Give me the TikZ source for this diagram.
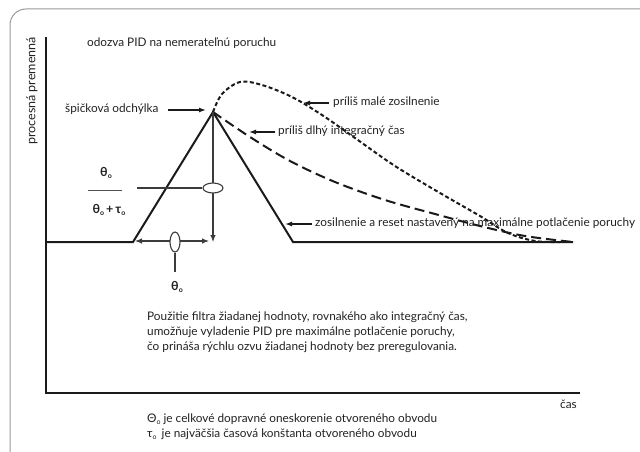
\documentclass[tikz,border=0pt]{standalone}
\usepackage{fontspec}
\setmainfont{Lato}
\usetikzlibrary{arrows.meta,shapes.geometric}
\definecolor{txt}{HTML}{222222}
\definecolor{ink}{HTML}{1A1A1A}
\definecolor{frm}{HTML}{9A9A9A}
\newcommand{\sbo}{\raisebox{-2pt}{\fontsize{7}{7}\selectfont o}}
\begin{document}
\begin{tikzpicture}[x=1pt,y=-1pt,
  lbl/.style={text=txt,font=\fontsize{11.8}{14}\selectfont,inner sep=0pt},
  axis/.style={ink,line width=2.4pt},
  curve/.style={ink,line width=2pt,line join=miter},
  thinl/.style={ink!85,line width=1.1pt},
  la/.style={ink,line width=1.3pt,-{Latex[length=7pt,width=5pt]}},
  sdash/.style={ink,line width=2pt,dash pattern=on 4pt off 2.5pt},
  ldash/.style={ink,line width=2pt,dash pattern=on 10pt off 5pt},
  ell/.style={draw=ink!85,line width=1.1pt,fill=white,ellipse,inner sep=0pt}]
\useasboundingbox (0,0) rectangle (640,452);
\clip (0,0) rectangle (640,452);
% frame
\draw[frm,line width=1pt,rounded corners=16pt] (10,470) -- (10,9) -- (680,9);
% axes
\coordinate (ytop) at (46,37);
\coordinate (org) at (46,393);
\coordinate (xend) at (580,393);
\draw[axis] (ytop) -- (org) -- (xend);
\node[lbl,rotate=90,font=\fontsize{12.5}{14}\selectfont] (ylab) at (32,91) {procesná premenná};
\node[lbl,anchor=mid west] (title) at (87,44) {odozva PID na nemerateľnú poruchu};
\node[lbl,anchor=mid west] (cas) at (560,406) {čas};
% main response
\coordinate (b0) at (46,242);
\coordinate (r0) at (133,242);
\coordinate (pk) at (213,112);
\coordinate (r1) at (293,242);
\coordinate (bend) at (573,242);
% short dash curve
\draw[sdash] plot[smooth,tension=0.55] coordinates {(pk) (222,94) (240,82) (262,85) (292,97) (322,115) (355,138) (395,166) (440,193) (480,216) (508,233) (535,241) (560,242)};
% long dash curve
\draw[ldash] plot[smooth,tension=0.55] coordinates {(pk) (250,137) (290,161) (335,182) (385,200) (435,214) (480,226) (525,236) (573,242)};
\draw[curve] (b0) -- (r0) -- (pk) -- (r1) -- (bend);
% vertical line with arrow
\coordinate (vb) at (213,242);
\draw[thinl,-{Latex[length=7pt,width=5.5pt]}] (pk) -- (vb);
% horizontal double arrow
\coordinate (ha) at (135,241);
\coordinate (hb) at (209,241);
\draw[thinl,{Latex[length=7pt,width=5.5pt]}-{Latex[length=7pt,width=5.5pt]}] (ha) -- (hb);
\node[ell,minimum width=10pt,minimum height=20pt] (el1) at (175,242) {};
\coordinate (el1d) at (175,272);
\draw[thinl] (el1.south) -- (el1d);
\node[lbl,font=\bfseries\fontsize{12.5}{14}\selectfont] (th1) at (177,287) {θ\sbo};
% fraction
\node[ell,minimum width=20pt,minimum height=10pt] (el2) at (213,188) {};
\coordinate (fl) at (137,188);
\draw[thinl] (fl) -- (el2.west);
\node[lbl,font=\bfseries\fontsize{12.5}{14}\selectfont] (num) at (106,173) {θ\sbo};
\coordinate (fb0) at (88,190);
\coordinate (fb1) at (122,190);
\draw[ink!75,line width=1pt] (fb0) -- (fb1);
\node[lbl,font=\bfseries\fontsize{12.5}{14}\selectfont] (den) at (109,210) {θ\sbo\,+\,τ\sbo};
% labels
\node[lbl,anchor=mid west] (spk) at (65,110) {špičková odchýlka};
\coordinate (spka) at (168,110);
\coordinate (spkb) at (206,110);
\draw[la] (spka) -- (spkb);
\node[lbl,anchor=mid west] (mal) at (333,103) {príliš malé zosilnenie};
\coordinate (mala) at (329,103);
\coordinate (malb) at (303,103);
\draw[la] (mala) -- (malb);
\node[lbl,anchor=mid west] (dlh) at (278,132) {príliš dlhý integračný čas};
\coordinate (dlha) at (275,132);
\coordinate (dlhb) at (249,132);
\draw[la] (dlha) -- (dlhb);
\node[lbl,anchor=mid west] (zos) at (315,224) {zosilnenie a reset nastavený na maximálne potlačenie poruchy};
\coordinate (zosa) at (312,224);
\coordinate (zosb) at (285,224);
\draw[la] (zosa) -- (zosb);
% paragraph
\node[lbl,anchor=north west,align=left,font=\fontsize{11.8}{15}\selectfont] (par) at (147,312) {Použitie filtra žiadanej hodnoty, rovnakého ako integračný čas,\\umožňuje vyladenie PID pre maximálne potlačenie poruchy,\\čo prináša rýchlu ozvu žiadanej hodnoty bez preregulovania.};
\node[lbl,anchor=north west,align=left,font=\fontsize{11.8}{15}\selectfont] (leg) at (147,414) {Θ\sbo{} je celkové dopravné oneskorenie otvoreného obvodu\\τ\sbo{}\, je najväčšia časová konštanta otvoreného obvodu};
\end{tikzpicture}
\end{document}
